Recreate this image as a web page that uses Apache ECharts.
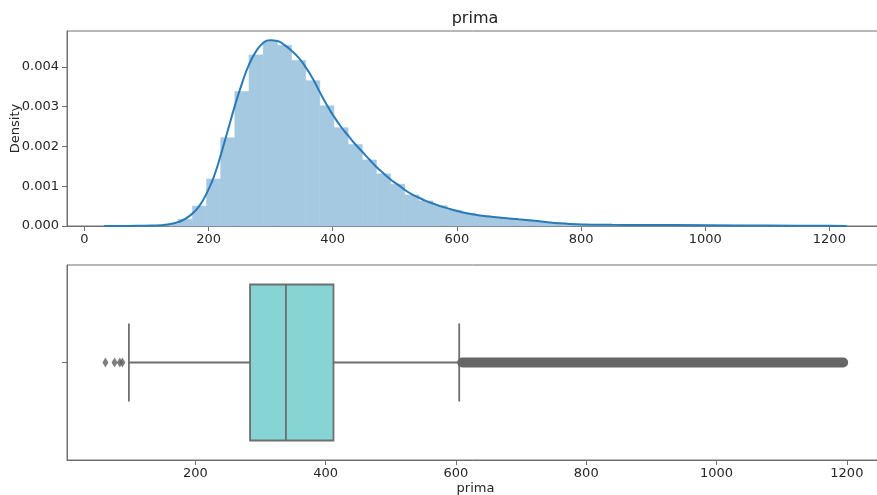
<!DOCTYPE html>
<html>
<head>
<meta charset="utf-8">
<script src="https://cdn.jsdelivr.net/npm/echarts@6/dist/echarts.min.js"></script>
<style>
  html, body { margin: 0; padding: 0; background: #fff; }
  #chart { width: 877px; height: 495px; }
</style>
</head>
<body>
<div id="chart"></div>
<script>
  // histogram: 50 bins, edges and density height
  const binEdges = [60, 82.8, 105.6, 128.4, 151.2, 174, 196.8, 219.6, 242.4, 265.2, 288,
    310.8, 333.6, 356.4, 379.2, 402, 424.8, 447.6, 470.4, 493.2, 516, 538.8, 561.6, 584.4,
    607.2, 630, 652.8, 675.6, 698.4, 721.2, 744, 766.8, 789.6, 812.4, 835.2, 858, 880.8,
    903.6, 926.4, 949.2, 972, 994.8, 1017.6, 1040.4, 1063.2, 1086, 1108.8, 1131.6, 1154.4,
    1177.2, 1200]
  const binDensity = [0.000003, 0.000005, 0.00001, 0.00005, 0.00017, 0.0005, 0.00118, 0.00222,
    0.00338, 0.0043, 0.00464, 0.00454, 0.00416, 0.00365, 0.00302, 0.00247, 0.00205, 0.00166,
    0.00131, 0.00105, 0.00078, 0.00063, 0.00051, 0.0004, 0.00032, 0.00026, 0.00022, 0.00019,
    0.00016, 0.00012, 0.00008, 0.00006, 0.00005, 0.00004, 0.00004, 0.00003, 0.00003, 0.00003,
    0.00003, 0.00002, 0.00002, 0.00002, 0.00002, 0.00002, 0.00001, 0.00001, 0.00001, 0.00001,
    0.00001, 0.00001]

  // kde curve
  const kdeX = [32, 70, 110, 135, 155, 170, 185, 200, 210, 220, 231, 242, 254, 265,
    277, 288, 300, 311, 322, 334, 345, 356, 368, 379, 391, 402, 413, 425,
    436, 448, 459, 470, 482, 493, 505, 516, 527, 539, 550, 562, 573, 590,
    610, 630, 650, 675, 700, 725, 750, 775, 800, 850, 900, 1000, 1100, 1200, 1228]
  const kdeY = [0, 0.000003, 0.00001, 0.00004, 0.00012, 0.00026, 0.0005, 0.00092, 0.0013, 0.0018,
    0.0024, 0.003, 0.00359, 0.00405, 0.0044, 0.0046, 0.00467, 0.00465, 0.00455, 0.0044, 0.00423,
    0.004, 0.0037, 0.00337, 0.00303, 0.00275, 0.0025, 0.00227, 0.00206, 0.00186, 0.00167,
    0.00149, 0.00132, 0.00117, 0.00104, 0.00091, 0.0008, 0.00071, 0.00063, 0.00056, 0.0005,
    0.00042, 0.00034, 0.00028, 0.00024, 0.0002, 0.00017, 0.00013, 0.00009, 0.00006, 0.00004,
    0.00003, 0.000025, 0.00002, 0.00001, 0.000004, 0]

  // boxplot: lower whisker, q1, median, q3, upper whisker
  const boxStats = [98, 284, 339, 412, 605]
  const lowFliers = [62, 76, 84, 88]
  const highFlierRange = [602, 1202] // solid run of outliers

  const densityTicks = [0, 0.001, 0.002, 0.003, 0.004]
  const topXTicks = [0, 200, 400, 600, 800, 1000, 1200]
  const bottomXTicks = [200, 400, 600, 800, 1000, 1200]

  const spine = '#707070'
  const ink = '#262626'
  const font = 'DejaVu Sans'
  const barColor = '#a5c9e1'

  function valueX (gridIndex, min, max, ticks, name) {
    return {
      type: 'value', gridIndex, min, max,
      name, nameLocation: 'middle', nameGap: 22, nameMoveOverlap: false,
      nameTextStyle: {color: ink, fontSize: 13, fontFamily: font},
      axisLine: {show: true, onZero: false, lineStyle: {color: spine, width: 1}},
      axisTick: {show: true, length: 5, customValues: ticks, lineStyle: {color: spine}},
      axisLabel: {
        customValues: ticks, margin: 7, color: ink, fontSize: 13, fontFamily: font,
        formatter: v => String(v)
      },
      splitLine: {show: false}
    }
  }

  const chart = echarts.init(document.getElementById('chart'))
  chart.setOption({
    animation: false,
    title: {
      text: 'prima', left: 475, top: 11, padding: 0, textAlign: 'center',
      textStyle: {fontFamily: font, fontSize: 16, fontWeight: 'normal', color: '#222'}
    },
    grid: [
      {left: 67, right: -7, top: 31, height: 195, outerBoundsMode: 'none',
        show: true, borderColor: spine, borderWidth: 1},
      {left: 67, right: -7, top: 265, height: 195, outerBoundsMode: 'none',
        show: true, borderColor: spine, borderWidth: 1}
    ],
    xAxis: [
      valueX(0, -28, 1288, topXTicks),
      valueX(1, 3, 1257, bottomXTicks, 'prima')
    ],
    yAxis: [
      {
        type: 'value', gridIndex: 0, min: 0, max: 0.0049,
        name: 'Density', nameLocation: 'middle', nameGap: 45, nameMoveOverlap: false,
        nameTextStyle: {color: ink, fontSize: 13, fontFamily: font},
        axisLine: {show: true, onZero: false, lineStyle: {color: spine, width: 1}},
        axisTick: {show: true, length: 5, customValues: densityTicks, lineStyle: {color: spine}},
        axisLabel: {
          customValues: densityTicks, margin: 8, color: ink, fontSize: 13, fontFamily: font,
          formatter: v => v.toFixed(3)
        },
        splitLine: {show: false}
      },
      {
        type: 'value', gridIndex: 1, min: -0.5, max: 0.5,
        axisLine: {show: true, onZero: false, lineStyle: {color: spine, width: 1}},
        axisTick: {show: true, length: 5, customValues: [0], lineStyle: {color: spine}},
        axisLabel: {customValues: [0], formatter: () => ''},
        splitLine: {show: false}
      }
    ],
    series: [
      {
        type: 'custom', xAxisIndex: 0, yAxisIndex: 0,
        data: binDensity.map((d, i) => [binEdges[i], binEdges[i + 1], d]),
        encode: {x: [0, 1], y: 2},
        renderItem (params, api) {
          const p0 = api.coord([api.value(0), api.value(2)])
          const p1 = api.coord([api.value(1), 0])
          return {
            type: 'rect',
            shape: {x: p0[0], y: p0[1], width: p1[0] - p0[0], height: p1[1] - p0[1]},
            style: {fill: barColor, stroke: barColor, lineWidth: 0.6}
          }
        }
      },
      {
        type: 'line', xAxisIndex: 0, yAxisIndex: 0,
        data: kdeX.map((x, i) => [x, kdeY[i]]),
        showSymbol: false, smooth: 0.5, z: 3,
        lineStyle: {color: '#2a7ab8', width: 2}
      },
      {
        type: 'custom', xAxisIndex: 1, yAxisIndex: 1,
        data: [boxStats],
        encode: {x: [0, 1, 2, 3, 4]},
        renderItem (params, api) {
          const lo = api.coord([api.value(0), 0])
          const q1 = api.coord([api.value(1), 0.4])
          const med = api.coord([api.value(2), 0])
          const q3 = api.coord([api.value(3), -0.4])
          const hi = api.coord([api.value(4), 0])
          const capH = api.size([0, 0.2])[1]
          const line = {stroke: '#6e6e6e', lineWidth: 1.8}
          return {
            type: 'group',
            children: [
              {type: 'line', shape: {x1: lo[0], y1: lo[1], x2: q1[0], y2: lo[1]}, style: line},
              {type: 'line', shape: {x1: q3[0], y1: hi[1], x2: hi[0], y2: hi[1]}, style: line},
              {type: 'line', shape: {x1: lo[0], y1: lo[1] - capH, x2: lo[0], y2: lo[1] + capH}, style: line},
              {type: 'line', shape: {x1: hi[0], y1: hi[1] - capH, x2: hi[0], y2: hi[1] + capH}, style: line},
              {
                type: 'rect',
                shape: {x: q1[0], y: q1[1], width: q3[0] - q1[0], height: q3[1] - q1[1]},
                style: {fill: '#86d4d4', stroke: '#6e6e6e', lineWidth: 1.8}
              },
              {type: 'line', shape: {x1: med[0], y1: q1[1], x2: med[0], y2: q3[1]}, style: line}
            ]
          }
        }
      },
      {
        type: 'scatter', xAxisIndex: 1, yAxisIndex: 1,
        data: lowFliers.map(v => [v, 0]),
        symbol: 'diamond', symbolSize: [6, 10],
        itemStyle: {color: '#5f5f5f'}
      },
      {
        type: 'custom', xAxisIndex: 1, yAxisIndex: 1,
        data: [highFlierRange],
        encode: {x: [0, 1]},
        renderItem (params, api) {
          const a = api.coord([api.value(0), 0])
          const b = api.coord([api.value(1), 0])
          return {
            type: 'rect',
            shape: {x: a[0], y: a[1] - 5, width: b[0] - a[0], height: 10, r: 5},
            style: {fill: '#666666'}
          }
        }
      }
    ]
  })
</script>
</body>
</html>
